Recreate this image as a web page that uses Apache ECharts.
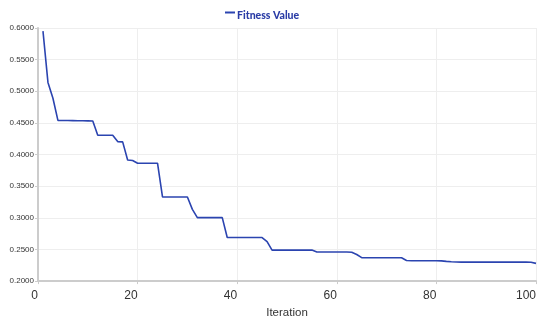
<!DOCTYPE html>
<html><head><meta charset="utf-8">
<script src="https://cdn.jsdelivr.net/npm/echarts@6/dist/echarts.min.js"></script>
<style>html,body{margin:0;padding:0;background:#fff}#c{width:550px;height:324px}</style>
</head><body><div id="c"></div>
<script>
const iterations = [];
for (let i = 1; i <= 100; i++) iterations.push(i);
const fitnessValues = [
  0.5950, 0.5140, 0.4890, 0.4540, 0.4538, 0.4537, 0.4536, 0.4535, 0.4533, 0.4532,
  0.4530, 0.4304, 0.4304, 0.4304, 0.4304, 0.4205, 0.4200, 0.3915, 0.3905, 0.3863,
  0.3863, 0.3863, 0.3863, 0.3863, 0.3330, 0.3330, 0.3330, 0.3330, 0.3330, 0.3330,
  0.3134, 0.3003, 0.3003, 0.3003, 0.3003, 0.3003, 0.3003, 0.2688, 0.2688, 0.2688,
  0.2688, 0.2688, 0.2688, 0.2688, 0.2688, 0.2625, 0.2490, 0.2490, 0.2490, 0.2490,
  0.2490, 0.2490, 0.2490, 0.2490, 0.2490, 0.2460, 0.2460, 0.2460, 0.2460, 0.2460,
  0.2460, 0.2460, 0.2455, 0.2420, 0.2370, 0.2368, 0.2368, 0.2368, 0.2368, 0.2368,
  0.2368, 0.2368, 0.2368, 0.2325, 0.2322, 0.2322, 0.2322, 0.2322, 0.2322, 0.2322,
  0.2320, 0.2312, 0.2306, 0.2302, 0.2300, 0.2300, 0.2300, 0.2300, 0.2300, 0.2300,
  0.2300, 0.2300, 0.2300, 0.2300, 0.2300, 0.2300, 0.2300, 0.2300, 0.2298, 0.2280
];
const seriesName = 'Fitness Value';
const xTicks = [0, 20, 40, 60, 80, 100];
const yTicks = [0.2, 0.25, 0.3, 0.35, 0.4, 0.45, 0.5, 0.55, 0.6];

const chart = echarts.init(document.getElementById('c'), null, {renderer: 'canvas'});
chart.setOption({
  animation: false,
  legend: {
    data: [seriesName],
    left: 220, top: 5,
    itemWidth: 10, itemHeight: 8, itemGap: 4,
    icon: 'path://M0,0 L10,0 L10,2 L0,2 Z M0,0 M0,8',
    textStyle: {fontFamily: 'Lato', fontWeight: 900, fontSize: 10.5, color: '#2a3ca6', padding: [0, 0, 0, -3]}
  },
  grid: {left: 38, right: 14, top: 28, bottom: 42, containLabel: false},
  xAxis: {
    type: 'value', min: 0, max: 100, interval: 20,
    name: 'Iteration', nameLocation: 'middle', nameGap: 25,
    nameTextStyle: {fontFamily: 'Liberation Sans', fontSize: 11.5, color: '#333'},
    axisLine: {lineStyle: {color: '#ccc', width: 2}},
    axisTick: {show: true, length: 3, lineStyle: {color: '#ccc'}},
    axisLabel: {fontFamily: 'Liberation Sans', fontSize: 12, color: '#333', margin: 9, align: 'right'},
    splitLine: {show: true, lineStyle: {color: '#eee'}}
  },
  yAxis: {
    type: 'value', min: 0.2, max: 0.6, interval: 0.05,
    axisLine: {show: true, lineStyle: {color: '#ccc', width: 2}},
    axisTick: {show: true, length: 3, lineStyle: {color: '#ccc'}},
    axisLabel: {fontFamily: 'Liberation Sans', fontSize: 8, color: '#333', margin: 4,
      formatter: v => v.toFixed(4)},
    splitLine: {show: true, lineStyle: {color: '#eee'}}
  },
  series: [{
    name: seriesName, type: 'line', showSymbol: false, symbol: 'none',
    data: iterations.map((x, i) => [x, fitnessValues[i]]),
    lineStyle: {color: '#2b44b0', width: 1.6},
    itemStyle: {color: '#2b44b0'}
  }]
});
</script></body></html>
